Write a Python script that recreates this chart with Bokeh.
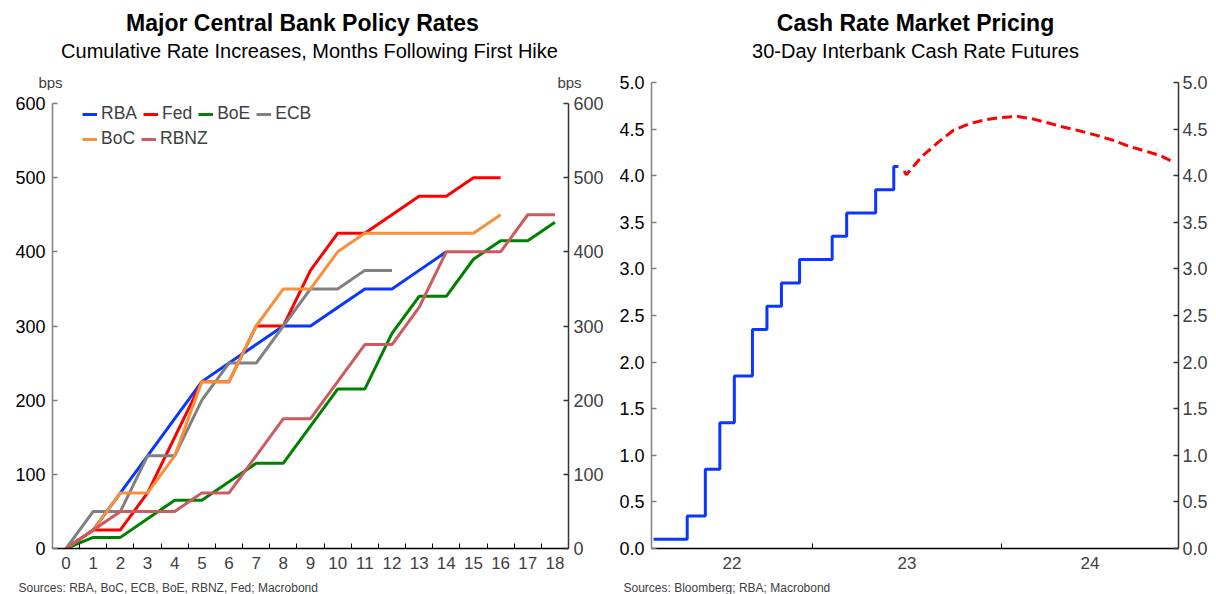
import pandas as pd
from bokeh.plotting import figure
from bokeh.models import (Range1d, LinearAxis, FixedTicker, Legend, LegendItem,
                          DatetimeTickFormatter, PrintfTickFormatter)
from bokeh.core.properties import value
from bokeh.layouts import row, column
from bokeh.embed import file_html
from bokeh.resources import INLINE

# ---------------- data: left chart (cumulative bps, months after first hike) ----------
months = list(range(19))
month_ticks = list(range(19))
rba = [0, 25, 75, 125, 175, 225, 250, 275, 300, 300, 325, 350, 350, 375, 400]
fed = [0, 25, 25, 75, 150, 225, 225, 300, 300, 375, 425, 425, 450, 475, 475, 500, 500]
boe = [0, 15, 15, 40, 65, 65, 90, 115, 115, 165, 215, 215, 290, 340, 340, 390, 415, 415, 440]
ecb = [0, 50, 50, 125, 125, 200, 250, 250, 300, 350, 350, 375, 375]
boc = [0, 25, 75, 75, 125, 225, 225, 300, 350, 350, 400, 425, 425, 425, 425, 425, 450]
rbnz = [0, 25, 50, 50, 50, 75, 75, 125, 175, 175, 225, 275, 275, 325, 400, 400, 400, 450, 450]
bank_names = ["RBA", "Fed", "BoE", "ECB", "BoC", "RBNZ"]
bps_ticks = [0, 100, 200, 300, 400, 500, 600]

# ---------------- data: right chart (cash rate and futures pricing, %) ----------------
cash_dates = ["2022-02-28", "2022-05-04", "2022-06-08", "2022-07-06", "2022-08-03",
              "2022-09-07", "2022-10-05", "2022-11-02", "2022-12-07", "2023-02-08",
              "2023-03-08", "2023-05-03", "2023-06-07", "2023-06-16"]
cash_rate = [0.10, 0.35, 0.85, 1.35, 1.85, 2.35, 2.60, 2.85, 3.10, 3.35, 3.60, 3.85, 4.10, 4.10]
fut_dates = ["2023-06-27", "2023-07-01", "2023-08-01", "2023-09-01", "2023-10-01",
             "2023-11-01", "2023-12-01", "2024-01-01", "2024-02-01", "2024-03-01",
             "2024-04-01", "2024-05-01", "2024-06-01", "2024-07-01", "2024-08-01",
             "2024-09-01", "2024-10-01", "2024-11-01", "2024-12-01"]
fut_rate = [4.05, 4.01, 4.21, 4.36, 4.49, 4.56, 4.60, 4.625, 4.635, 4.61, 4.565, 4.52,
            4.48, 4.435, 4.385, 4.32, 4.27, 4.22, 4.14]
rate_ticks = [0.0, 0.5, 1.0, 1.5, 2.0, 2.5, 3.0, 3.5, 4.0, 4.5, 5.0]
year_bounds = ["2023-01-01", "2024-01-01"]

FONT = "Liberation Sans"
DARK = "#404040"

colors = {"RBA": "#0a37ff", "Fed": "#ff0000", "BoE": "#008000", "ECB": "#808080",
          "BoC": "#f7903a", "RBNZ": "#cc5a5f"}
values = {"RBA": rba, "Fed": fed, "BoE": boe, "ECB": ecb, "BoC": boc, "RBNZ": rbnz}


def text_panel(w, h):
    """A blank figure whose data units equal pixels (y measured from the top)."""
    t = figure(width=w, height=h, output_backend="svg", toolbar_location=None,
               x_range=Range1d(0, w), y_range=Range1d(h, 0),
               x_axis_location=None, y_axis_location=None, min_border=0,
               frame_align=False)
    t.outline_line_color = None
    t.grid.visible = False
    return t


def put(t, x, y, s, size, bold=False, color="black", align="center"):
    t.text(x=[x], y=[y], text=[s], text_font=value(FONT), text_font_size=size,
           text_font_style="bold" if bold else "normal", text_color=color,
           text_align=align, text_baseline="middle")


def style_y(ax, line_color, label_color, standoff=7):
    ax.axis_line_color = line_color
    ax.axis_line_width = 1.5
    ax.major_tick_line_color = line_color
    ax.major_tick_line_width = 1.5
    ax.major_tick_in = 5
    ax.major_tick_out = 0
    ax.minor_tick_line_color = None
    ax.major_label_text_font = FONT
    ax.major_label_text_font_size = "18px"
    ax.major_label_text_color = label_color
    ax.major_label_standoff = standoff


def style_x(ax):
    ax.axis_line_color = "black"
    ax.axis_line_width = 1.5
    ax.major_tick_in = 0
    ax.major_tick_out = 0
    ax.minor_tick_in = 5
    ax.minor_tick_out = 0
    ax.minor_tick_line_color = "black"
    ax.minor_tick_line_width = 1
    ax.major_label_text_font = FONT
    ax.major_label_text_font_size = "17px"
    ax.major_label_text_color = DARK
    ax.major_label_standoff = 8


# ================= left chart =================
W1 = 612
top1 = text_panel(W1, 90)
put(top1, 302, 22, "Major Central Bank Policy Rates", "23px", bold=True)
put(top1, 309, 50, "Cumulative Rate Increases, Months Following First Hike", "20px")
put(top1, 50, 82, "bps", "15px", color=DARK)
put(top1, 569, 82, "bps", "15px", color=DARK)

p1 = figure(width=W1, height=488, output_backend="svg", toolbar_location=None,
            x_range=Range1d(-0.5, 18.5), y_range=Range1d(0, 600),
            min_border_left=52, min_border_right=44, min_border_top=13, min_border_bottom=30,
            frame_align=False)
p1.outline_line_color = None
p1.grid.visible = False

renderers = {}
for name in bank_names:
    v = values[name]
    renderers[name] = p1.line(months[:len(v)], v, line_color=colors[name], line_width=3)

p1.xaxis.ticker = FixedTicker(ticks=month_ticks, minor_ticks=[m + 0.5 for m in month_ticks[:-1]])
style_x(p1.xaxis[0])
p1.yaxis.ticker = FixedTicker(ticks=bps_ticks)
style_y(p1.yaxis[0], "#808080", "black")
rax1 = LinearAxis(ticker=FixedTicker(ticks=bps_ticks))
style_y(rax1, "#333333", DARK, standoff=5)
p1.add_layout(rax1, "right")


def make_legend(names, loc):
    lg = Legend(items=[LegendItem(label=n, renderers=[renderers[n]]) for n in names],
                location=loc, orientation="horizontal")
    lg.border_line_color = None
    lg.background_fill_alpha = 0
    lg.padding = 0
    lg.margin = 0
    lg.spacing = 6
    lg.label_standoff = 4
    lg.glyph_width = 15
    lg.glyph_height = 20
    lg.label_height = 20
    lg.label_width = 10
    lg.label_text_font = FONT
    lg.label_text_font_size = "17.5px"
    lg.label_text_color = DARK
    return lg


p1.add_layout(make_legend(["RBA", "Fed", "BoE", "ECB"], (30, 424)))
p1.add_layout(make_legend(["BoC", "RBNZ"], (30, 399)))

bot1 = text_panel(W1, 16)
put(bot1, 18, 9, "Sources: RBA, BoC, ECB, BoE, RBNZ, Fed; Macrobond", "12px", color=DARK, align="left")

# ================= right chart =================
W2 = 604
top2 = text_panel(W2, 70)
put(top2, 303, 22, "Cash Rate Market Pricing", "23px", bold=True)
put(top2, 303, 50, "30-Day Interbank Cash Rate Futures", "20px")

xs = pd.Timestamp("2022-02-24")
xe = pd.Timestamp("2024-12-08")
yb = [pd.Timestamp(d) for d in year_bounds]
edges = [xs] + yb + [xe]
centers = [edges[i] + (edges[i + 1] - edges[i]) / 2 for i in range(len(edges) - 1)]
to_ms = lambda t: t.value / 1e6

p2 = figure(width=W2, height=508, output_backend="svg", toolbar_location=None,
            x_axis_type="datetime",
            x_range=Range1d(start=to_ms(xs), end=to_ms(xe)), y_range=Range1d(0, 5),
            min_border_left=39, min_border_right=38, min_border_top=12, min_border_bottom=30,
            frame_align=False)
p2.outline_line_color = None
p2.grid.visible = False

p2.step(pd.to_datetime(cash_dates), cash_rate, mode="after", line_color="#0a37ff", line_width=3)
p2.line(pd.to_datetime(fut_dates), fut_rate, line_color="#ff0000", line_width=3, line_dash="10 5")

p2.xaxis.ticker = FixedTicker(ticks=[to_ms(c) for c in centers], minor_ticks=[to_ms(t) for t in yb])
fmt = "%y"
p2.xaxis.formatter = DatetimeTickFormatter(microseconds=fmt, milliseconds=fmt, seconds=fmt,
                                           minsec=fmt, minutes=fmt, hourmin=fmt, hours=fmt,
                                           days=fmt, months=fmt, years=fmt)
style_x(p2.xaxis[0])
p2.yaxis.ticker = FixedTicker(ticks=rate_ticks)
p2.yaxis.formatter = PrintfTickFormatter(format="%.1f")
style_y(p2.yaxis[0], "#808080", "black")
rax2 = LinearAxis(ticker=FixedTicker(ticks=rate_ticks), formatter=PrintfTickFormatter(format="%.1f"))
style_y(rax2, "#333333", DARK, standoff=4)
p2.add_layout(rax2, "right")

bot2 = text_panel(W2, 16)
put(bot2, 11, 9, "Sources: Bloomberg; RBA; Macrobond", "12px", color=DARK, align="left")

layout = row(column(top1, p1, bot1), column(top2, p2, bot2))
open("out.html", "w").write(file_html(layout, INLINE))
